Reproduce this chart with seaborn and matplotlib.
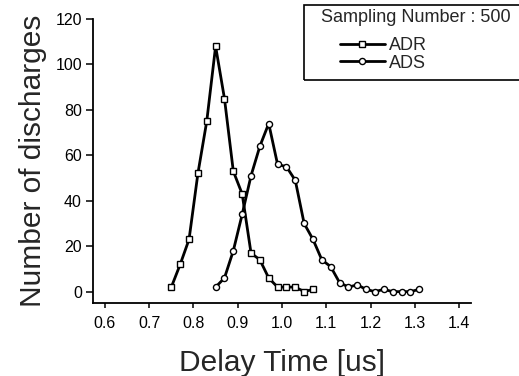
import matplotlib
matplotlib.use("Agg")
import matplotlib.pyplot as plt
from matplotlib.patches import Rectangle
import seaborn as sns
import pandas as pd

# delay time histograms
adr_time = [0.75, 0.77, 0.79, 0.81, 0.83, 0.85, 0.87, 0.89, 0.91, 0.93, 0.95,
            0.97, 0.99, 1.01, 1.03, 1.05, 1.07]
adr_count = [2, 12, 23, 52, 75, 108, 85, 53, 43, 17, 14, 6, 2, 2, 2, 0, 1]

ads_time = [0.85, 0.87, 0.89, 0.91, 0.93, 0.95, 0.97, 0.99, 1.01, 1.03, 1.05,
            1.07, 1.09, 1.11, 1.13, 1.15, 1.17, 1.19, 1.21, 1.23, 1.25, 1.27,
            1.29, 1.31]
ads_count = [2, 6, 18, 34, 51, 64, 74, 56, 55, 49, 30, 23, 14, 11, 4, 2, 3,
             1, 0, 1, 0, 0, 0, 1]

xticks = [0.6, 0.7, 0.8, 0.9, 1.0, 1.1, 1.2, 1.3, 1.4]
yticks = [0, 20, 40, 60, 80, 100, 120]

df = pd.concat([
    pd.DataFrame({"time": adr_time, "count": adr_count, "kind": "ADR"}),
    pd.DataFrame({"time": ads_time, "count": ads_count, "kind": "ADS"}),
])

sns.set_style("ticks")
plt.rcParams["font.family"] = ["Liberation Sans", "DejaVu Sans"]

W, H = 519, 376
fig = plt.figure(figsize=(W / 100, H / 100), dpi=100)
ax = fig.add_axes([93 / W, 1 - 303 / H, (471 - 93) / W, (303 - 19) / H])

sns.lineplot(data=df, x="time", y="count", style="kind", markers=["s", "o"],
             dashes=False, color="black", linewidth=2.0, markersize=4.4,
             markerfacecolor="white", markeredgecolor="black",
             markeredgewidth=1.0, legend=False, ax=ax)

ax.set_xlim(0.573, 1.427)
ax.set_ylim(-5, 120)
ax.set_xticks(xticks)
ax.set_xticklabels([f"{t:.1f}" for t in xticks])
ax.set_yticks(yticks)
sns.despine(ax=ax)
for s in ["left", "bottom"]:
    ax.spines[s].set_linewidth(1.3)
    ax.spines[s].set_color("black")
ax.tick_params(axis="x", length=3.5, width=1.1, pad=6, labelsize=11.5, colors="black")
ax.tick_params(axis="y", length=5, width=1.1, pad=3, labelsize=11.5, colors="black")
ax.set_xlabel("Delay Time [us]", fontsize=21.5, labelpad=13)
ax.set_ylabel("Number of discharges", fontsize=21.5, labelpad=6)

# legend box sticks out past the right edge of the figure
fig.patches.append(Rectangle((304 / W, 1 - 80 / H), 230 / W, 75 / H,
                             transform=fig.transFigure, fill=False,
                             edgecolor="black", linewidth=1.2))
fig.text(321 / W, 1 - 18 / H, "Sampling Number : 500", fontsize=13, va="center")
handles = [plt.Line2D([], [], color="black", lw=2.0, marker=m, ms=4.4,
                      mfc="white", mec="black", mew=1.0) for m in ["s", "o"]]
fig.legend(handles, ["ADR", "ADS"], loc="upper left", frameon=False,
           bbox_to_anchor=(329 / W, 1 - 26 / H), fontsize=13,
           handlelength=2.5, handletextpad=0.2, labelspacing=0.05,
           borderpad=0.1)

fig.savefig("out.png", dpi=100)
